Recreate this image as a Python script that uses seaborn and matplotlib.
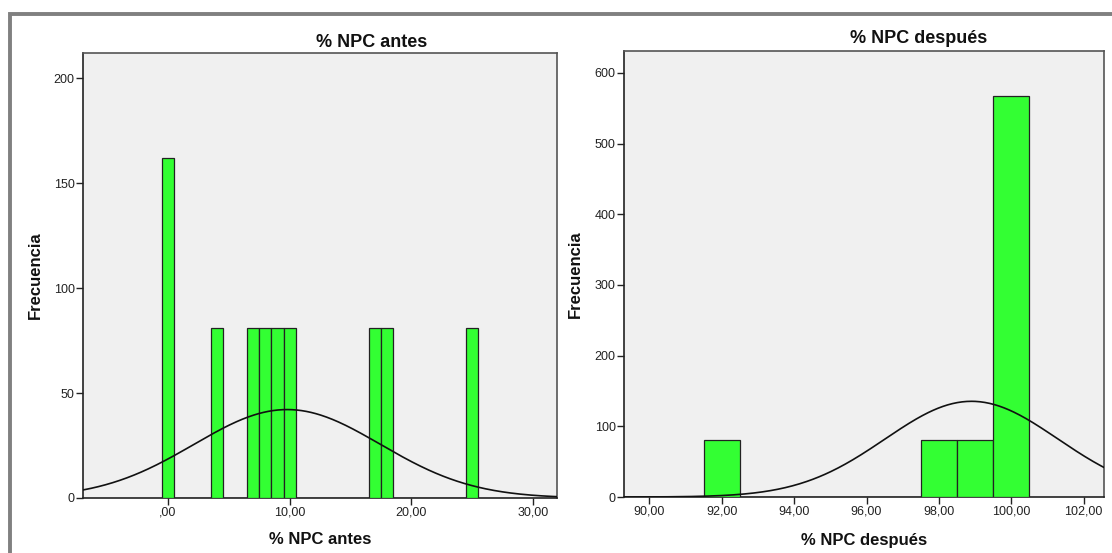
import numpy as np
import matplotlib
matplotlib.use("Agg")
import matplotlib.pyplot as plt
import seaborn as sns
from matplotlib.patches import Rectangle

# Datos (histogramas de frecuencias ponderadas)
antes_valores = [0, 4, 7, 8, 9, 10, 17, 18, 25]
antes_frec = [162, 81, 81, 81, 81, 81, 81, 81, 81]
despues_valores = [92, 98, 99, 100]
despues_frec = [81, 81, 81, 567]

antes_ticks = [0, 10, 20, 30]
antes_ticklabels = [",00", "10,00", "20,00", "30,00"]
antes_yticks = [0, 50, 100, 150, 200]
despues_ticks = [90, 92, 94, 96, 98, 100, 102]
despues_ticklabels = ["90,00", "92,00", "94,00", "96,00", "98,00", "100,00", "102,00"]
despues_yticks = [0, 100, 200, 300, 400, 500, 600]

sns.set_style("white")
plt.rcParams['font.family'] = ['Liberation Sans', 'DejaVu Sans']

W, H = 1112, 553
fig = plt.figure(figsize=(W / 100, H / 100), dpi=100)
fig.patch.set_facecolor("white")


def px_axes(x0, y0, x1, y1):
    return fig.add_axes([x0 / W, 1 - y1 / H, (x1 - x0) / W, (y1 - y0) / H])


def curva_normal(ax, valores, frec, xlim, ancho=1.0):
    v = np.array(valores, dtype=float)
    f = np.array(frec, dtype=float)
    n = f.sum()
    media = (v * f).sum() / n
    sd = np.sqrt((f * (v - media) ** 2).sum() / (n - 1))
    xs = np.linspace(xlim[0], xlim[1], 400)
    ys = n * ancho * np.exp(-0.5 * ((xs - media) / sd) ** 2) / (sd * np.sqrt(2 * np.pi))
    ax.plot(xs, ys, color="#111111", lw=1.2, zorder=5)


def panel(ax, valores, frec, xlim, ylim, xticks, xticklabels, yticks):
    ax.set_facecolor("#f0f0f0")
    sns.histplot(x=valores, weights=frec, discrete=True, ax=ax,
                 color="#33ff33", edgecolor="#222222", linewidth=0.9,
                 alpha=1, zorder=3)
    curva_normal(ax, valores, frec, xlim)
    ax.set_xlim(*xlim)
    ax.set_ylim(*ylim)
    ax.set_xticks(xticks)
    ax.set_xticklabels(xticklabels)
    ax.set_yticks(yticks)
    ax.tick_params(axis="both", direction="out", length=5, width=1,
                   color="#222222", labelsize=9, labelcolor="#222222", pad=1)
    ax.tick_params(top=False, right=False, left=True, bottom=True)
    for s in ["left", "bottom"]:
        ax.spines[s].set_color("#222222")
        ax.spines[s].set_linewidth(1.2)
    for s in ["top", "right"]:
        ax.spines[s].set_color("#555555")
        ax.spines[s].set_linewidth(1.2)
    ax.set_xlabel("")
    ax.set_ylabel("")


ax1 = px_axes(83, 53, 557, 498)
panel(ax1, antes_valores, antes_frec, (-7, 32), (0, 212),
      antes_ticks, antes_ticklabels, antes_yticks)

ax2 = px_axes(624, 51, 1104, 497)
panel(ax2, despues_valores, despues_frec, (89.3, 102.56), (0, 631),
      despues_ticks, despues_ticklabels, despues_yticks)

# Titulos y etiquetas al estilo SPSS
fig.text(372 / W, 1 - 47 / H, "% NPC antes", ha="center", va="baseline",
         fontsize=13, fontweight="bold", color="#111111")
fig.text(919 / W, 1 - 43 / H, "% NPC después", ha="center", va="baseline",
         fontsize=13, fontweight="bold", color="#111111")
fig.text(320 / W, 1 - 540 / H, "% NPC antes", ha="center", va="center",
         fontsize=12, fontweight="bold", color="#111111")
fig.text(864 / W, 1 - 540 / H, "% NPC después", ha="center", va="center",
         fontsize=12, fontweight="bold", color="#111111")
fig.text(35 / W, 1 - 275 / H, "Frecuencia", ha="center", va="center",
         rotation=90, fontsize=12, fontweight="bold", color="#111111")
fig.text(575 / W, 1 - 274 / H, "Frecuencia", ha="center", va="center",
         rotation=90, fontsize=12, fontweight="bold", color="#111111")

# Marco gris exterior (solo se ven los bordes superior e izquierdo)
fig.add_artist(Rectangle((10 / W, -0.2), 1.5, 1.2 - 13.5 / H,
                         transform=fig.transFigure, fill=False,
                         edgecolor="#808080", lw=2.8, clip_on=False))

fig.savefig("out.png", dpi=100)
